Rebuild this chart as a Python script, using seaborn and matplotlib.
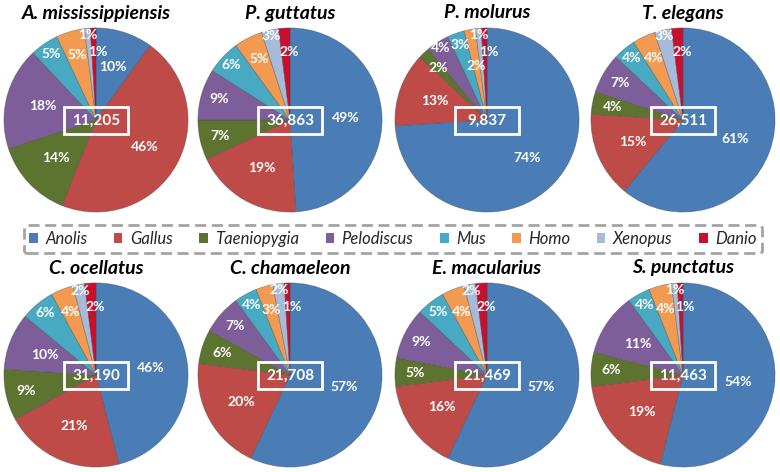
import numpy as np
import seaborn as sns
import matplotlib.pyplot as plt
from matplotlib.patches import Patch, Rectangle

# genera in slice order (clockwise from 12 o'clock)
genera = ['Anolis', 'Gallus', 'Taeniopygia', 'Pelodiscus', 'Mus', 'Homo', 'Xenopus', 'Danio']
colors = ['#4A7DB5', '#BE4B48', '#5D7430', '#7D5E9B', '#47A9C2', '#F29A52', '#A6BBDA', '#C8102E']

species = ['A. mississippiensis', 'P. guttatus', 'P. molurus', 'T. elegans',
           'C. ocellatus', 'C. chamaeleon', 'E. macularius', 'S. punctatus']
totals = [11205, 36863, 9837, 26511, 31190, 21708, 21469, 11463]

# percent of best hits per genus, one list per species
pct_a_mississippiensis = [10, 46, 14, 18, 5, 5, 1, 1]
pct_p_guttatus = [49, 19, 7, 9, 6, 5, 3, 2]
pct_p_molurus = [74, 13, 2, 4, 3, 2, 1, 1]
pct_t_elegans = [61, 15, 4, 7, 4, 4, 3, 2]
pct_c_ocellatus = [46, 21, 9, 10, 6, 4, 2, 2]
pct_c_chamaeleon = [57, 20, 6, 7, 4, 3, 2, 1]
pct_e_macularius = [57, 16, 5, 9, 5, 4, 2, 2]
pct_s_punctatus = [54, 19, 6, 11, 4, 4, 1, 1]
pcts = [pct_a_mississippiensis, pct_p_guttatus, pct_p_molurus, pct_t_elegans,
        pct_c_ocellatus, pct_c_chamaeleon, pct_e_macularius, pct_s_punctatus]

sns.set_theme(style='white')
plt.rcParams['font.family'] = ['Lato', 'DejaVu Sans']
palette = sns.color_palette(colors)

W, H = 780, 472
fig = plt.figure(figsize=(W / 100, H / 100), dpi=100)
fig.patch.set_facecolor('white')

centers_x = [96, 290, 487, 683]
centers_y = [120, 375]
R = 93

# preferred label radius for small slices, per genus
small_r = [0.6, 0.6, 0.78, 0.8, 0.87, 0.74, 0.93, 0.74]
fallback_r = [0.93, 0.6, 0.5, 0.68, 0.85]


def overlaps(x, y, w, placed):
    for px, py, pw in placed:
        if abs(x - px) < (w + pw) / 2 and abs(y - py) < 0.12:
            return True
    return False


for k, (name, total, vals) in enumerate(zip(species, totals, pcts)):
    cx = centers_x[k % 4]
    cy = centers_y[k // 4]
    ax = fig.add_axes([(cx - R) / W, (H - cy - R) / H, 2 * R / W, 2 * R / H])
    wedges, _ = ax.pie(vals, colors=palette, startangle=90, counterclock=False,
                       radius=1, wedgeprops=dict(edgecolor=(0.25, 0.25, 0.25, 0.45), linewidth=0.5))
    placed = []
    for i, (w, v) in enumerate(zip(wedges, vals)):
        ang = np.deg2rad((w.theta1 + w.theta2) / 2)
        txt = f'{v}%'
        tw = 0.088 * len(txt)
        dx = 0.04 if i == 7 else 0.0
        r = 0.6 if v >= 10 else small_r[i]
        x, y = r * np.cos(ang) + dx, r * np.sin(ang)
        if overlaps(x, y, tw, placed):
            for r2 in fallback_r:
                x2, y2 = r2 * np.cos(ang) + dx, r2 * np.sin(ang)
                if not overlaps(x2, y2, tw, placed):
                    x, y = x2, y2
                    break
        placed.append((x, y, tw))
        ax.text(x, y, txt, color='white', fontsize=10, fontweight='bold',
                ha='center', va='center')
    ax.add_patch(Rectangle((-0.35, -0.15), 0.7, 0.29, fill=False, edgecolor='white', linewidth=2))
    ax.text(0, -0.005, f'{total:,}', color='white', fontsize=11, fontweight='bold',
            ha='center', va='center')
    ax.set_xlim(-1.01, 1.01)
    ax.set_ylim(-1.01, 1.01)
    ax.set_aspect('equal')
    ax.axis('off')
    ty = 13 if k < 4 else 268
    fig.text(cx / W, 1 - ty / H, name, fontsize=14, fontweight='bold', fontstyle='italic',
             ha='center', va='center', color='black')

handles = [Patch(facecolor=c, edgecolor='none', label=g) for c, g in zip(palette, genera)]
leg = fig.legend(handles=handles, loc='center', bbox_to_anchor=(393 / W, 1 - 239 / H), ncol=8,
                 frameon=True, fancybox=True, handlelength=0.5, handleheight=0.5,
                 handletextpad=0.45, columnspacing=1.6, borderpad=0.35,
                 prop=dict(style='italic', size=12))
frame = leg.get_frame()
frame.set_edgecolor('#8C8C8C')
frame.set_linestyle((0, (4, 2)))
frame.set_linewidth(2)
frame.set_facecolor('white')

fig.savefig('out.png', dpi=100)
